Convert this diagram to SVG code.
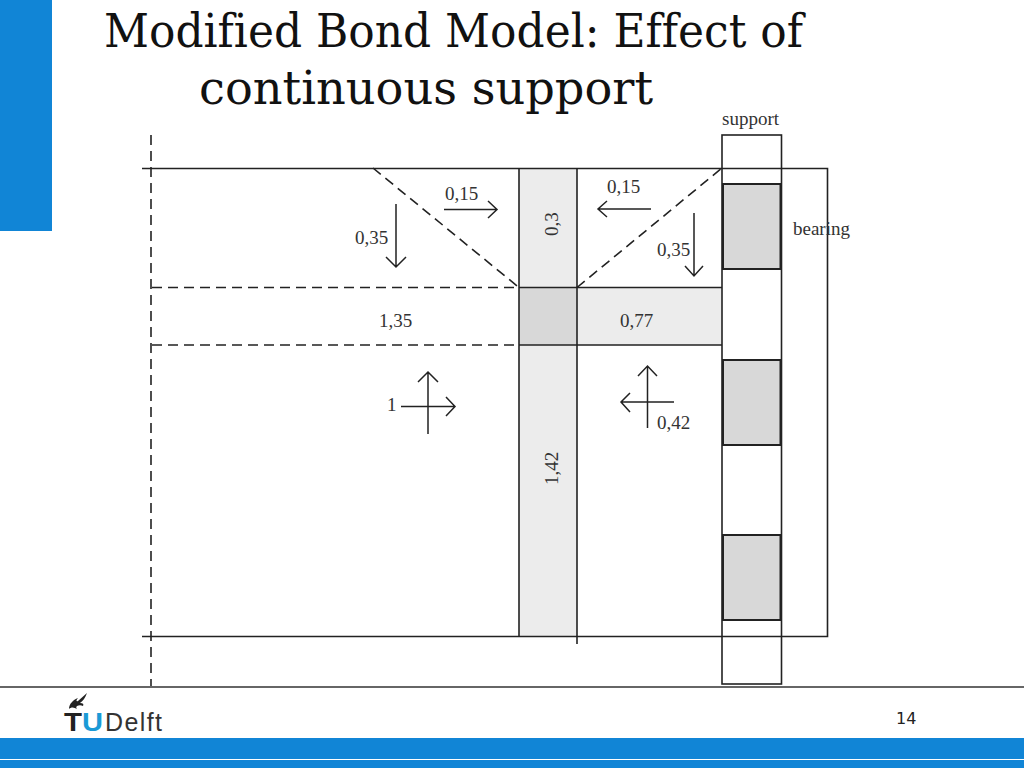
<svg xmlns="http://www.w3.org/2000/svg" width="1024" height="768" viewBox="0 0 1024 768">
<style>
.title{font-family:"DejaVu Serif",serif;font-size:46px;fill:#111;font-variant-ligatures:none}
.lbl{font-family:"Liberation Serif",serif;font-size:19px;fill:#333}
.ln{fill:none;stroke:#222;stroke-width:1.6}
.dash{fill:none;stroke:#222;stroke-width:1.6;stroke-dasharray:10 6}
.arr{fill:none;stroke:#222;stroke-width:1.5}
.pad{fill:#d8d8d8;stroke:#222;stroke-width:2}
</style>
<rect width="1024" height="768" fill="#fff"/>
<g id="slide-frame">
<rect x="0" y="0" width="52" height="231" fill="#1185d6"/>
<rect x="0" y="738" width="1024" height="21" fill="#1185d6"/>
<rect x="0" y="760" width="1024" height="8" fill="#1185d6"/>
</g>
<g id="title">
<text class="title" x="104" y="47" textLength="699" lengthAdjust="spacingAndGlyphs">Modified Bond Model: Effect of</text>
<text class="title" x="199" y="104" textLength="454" lengthAdjust="spacingAndGlyphs">continuous support</text>
</g>
<g id="strips">
<rect x="519" y="168" width="58" height="468" fill="#ececec"/>
<rect x="577" y="287" width="145" height="58" fill="#ececec"/>
<rect x="519" y="287" width="58" height="58" fill="#d8d8d8"/>
</g>
<g id="support">
<rect class="ln" x="722" y="135" width="59.500" height="549"/>
<rect class="pad" x="723" y="184" width="57.500" height="85"/>
<rect class="pad" x="723" y="360" width="57.500" height="85"/>
<rect class="pad" x="723" y="535" width="57.500" height="85"/>
<text class="lbl" x="722" y="125">support</text>
</g>
<g id="connectors">
<path class="ln" d="M142 168.500H827.500V636.500H142"/>
<path class="dash" d="M151 135V686"/>
<path class="dash" d="M152 287.500H519M152 345H519M373 168L519 287.500M577 287.500L722 168"/>
<path class="ln" d="M519 168V636M577 168V644M519 287.500H722M519 345H722"/>
<path class="arr" d="M396 204V266M386 257L396 267L406 257"/>
<path class="arr" d="M444 209.500H496M488 201L497 209.500L488 218"/>
<path class="arr" d="M651 209H599M607 201L598 209L607 217"/>
<path class="arr" d="M694 213V275M685 266L694 276L703 266"/>
<path class="arr" d="M428 372V434M418 382L428 372L438 382M401 406.500H455M446 397L455 406.500L446 416"/>
<path class="arr" d="M647.500 366V428M638 376L647.500 366L657 376M674 402H621M630 393L621 402L630 412"/>
</g>
<g id="labels">
<text class="lbl" x="445" y="200">0,15</text>
<text class="lbl" x="607" y="193">0,15</text>
<text class="lbl" x="355" y="244">0,35</text>
<text class="lbl" x="657" y="256">0,35</text>
<text class="lbl" x="379" y="327">1,35</text>
<text class="lbl" x="620" y="327">0,77</text>
<text class="lbl" x="387" y="411">1</text>
<text class="lbl" x="657" y="429">0,42</text>
<text class="lbl" x="793" y="235">bearing</text>
<text class="lbl" transform="translate(558,236) rotate(-90)">0,3</text>
<text class="lbl" transform="translate(558,485) rotate(-90)">1,42</text>
</g>
<g id="footer">
<path d="M0 687H1024" stroke="#333" stroke-width="1.500"/>
<text x="896" y="724" font-family="'DejaVu Sans',sans-serif" font-size="16" fill="#222">14</text>
</g>
<g id="logo">
<path d="M69 709C69 704 73 700 78 698C76 700 76 702 78 701L87 693C85 698 83 701 80 703C83 703 84 704 83 706C81 705 79 705 77 706C76 707 76 708 77 709C74 707 71 707 69 709Z" fill="#222"/>
<text x="64" y="730.500" font-family="'Liberation Sans',sans-serif" font-weight="700" font-size="26" fill="#222" textLength="18" lengthAdjust="spacingAndGlyphs">T</text>
<text x="82" y="730.500" font-family="'Liberation Sans',sans-serif" font-weight="700" font-size="26" fill="#1b9ad6" textLength="21" lengthAdjust="spacingAndGlyphs">U</text>
<text x="105" y="730.500" font-family="'Liberation Sans',sans-serif" font-size="25" fill="#333" textLength="57" lengthAdjust="spacing">Delft</text>
</g>
</svg>
